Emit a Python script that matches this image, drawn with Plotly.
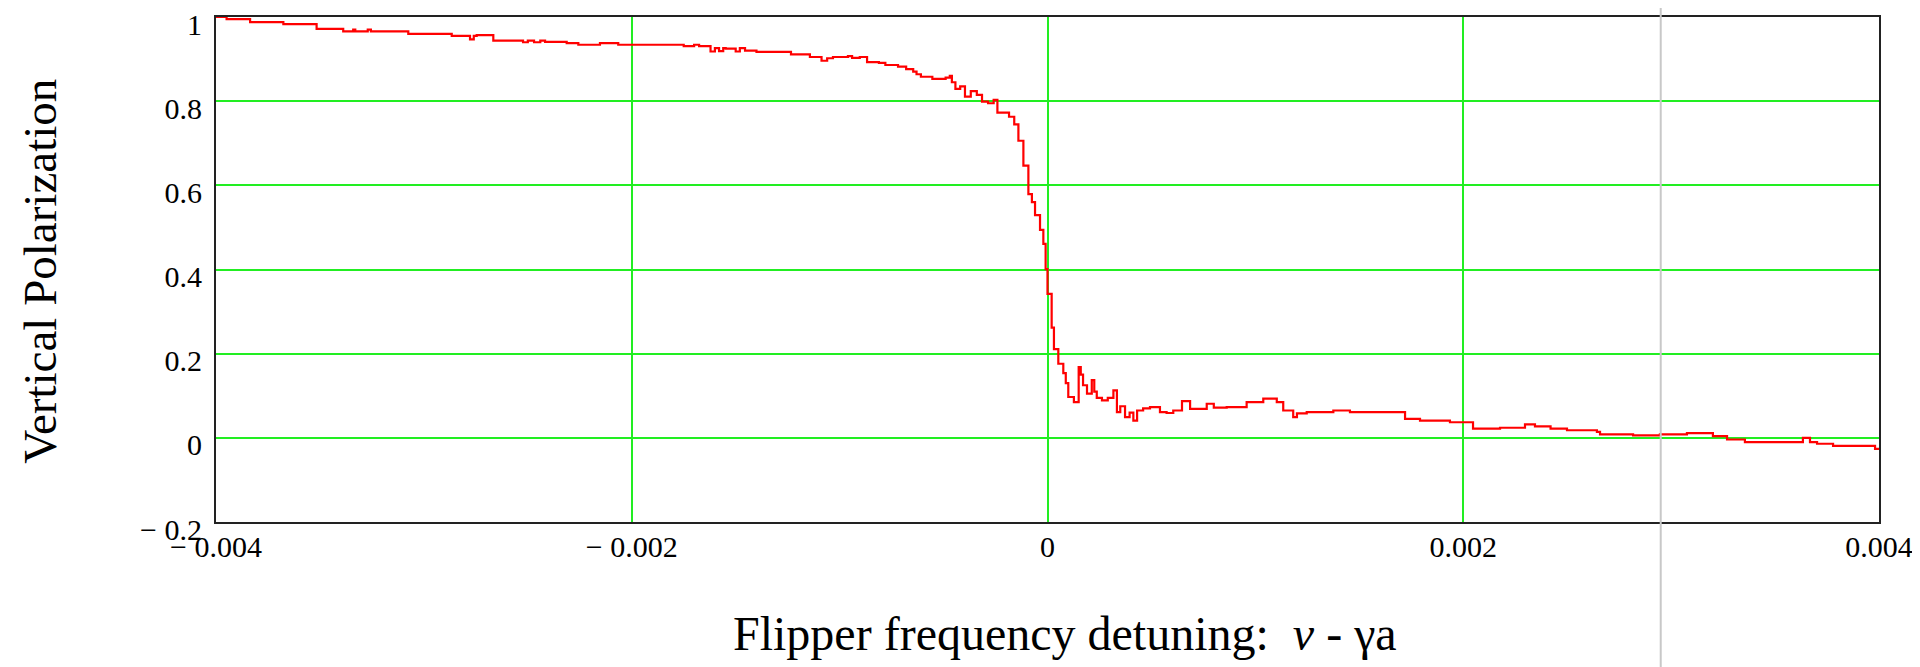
import plotly.graph_objects as go

# Red curve (vertical polarization vs detuning)
detuning = [
    -0.004000, -0.003949, -0.003836, -0.003676, -0.003516, -0.003388, -0.003340, -0.003330,
    -0.003270, -0.003255, -0.003075, -0.002866, -0.002778, -0.002760, -0.002746, -0.002666,
    -0.002523, -0.002500, -0.002470, -0.002440, -0.002417, -0.002313, -0.002257, -0.002153,
    -0.002065, -0.001750, -0.001700, -0.001676, -0.001621, -0.001600, -0.001580, -0.001560,
    -0.001548, -0.001500, -0.001480, -0.001455, -0.001400, -0.001327, -0.001234, -0.001143,
    -0.001087, -0.001060, -0.001032, -0.000960, -0.000940, -0.000903, -0.000868, -0.000811,
    -0.000780, -0.000719, -0.000680, -0.000646, -0.000630, -0.000609, -0.000554, -0.000490,
    -0.000470, -0.000460, -0.000443, -0.000420, -0.000397, -0.000369, -0.000340, -0.000315,
    -0.000286, -0.000259, -0.000241, -0.000185, -0.000160, -0.000140, -0.000116, -0.000092,
    -0.000075, -0.000060, -0.000036, -0.000020, -0.000009, 0.000000, 0.000020, 0.000031,
    0.000052, 0.000076, 0.000088, 0.000100, 0.000127, 0.000150, 0.000160, 0.000171,
    0.000190, 0.000213, 0.000225, 0.000237, 0.000262, 0.000290, 0.000317, 0.000334,
    0.000350, 0.000373, 0.000395, 0.000413, 0.000431, 0.000460, 0.000493, 0.000541,
    0.000573, 0.000605, 0.000647, 0.000686, 0.000766, 0.000800, 0.000862, 0.000958,
    0.001038, 0.001103, 0.001134, 0.001182, 0.001200, 0.001247, 0.001375, 0.001455,
    0.001614, 0.001696, 0.001720, 0.001792, 0.001903, 0.001936, 0.002018, 0.002047,
    0.002177, 0.002297, 0.002345, 0.002420, 0.002499, 0.002643, 0.002658, 0.002817,
    0.002946, 0.003076, 0.003201, 0.003269, 0.003355, 0.003620, 0.003634, 0.003668,
    0.003702, 0.003779, 0.003894, 0.003981, 0.004000,
]
polarization = [
    1.000, 0.995, 0.988, 0.983, 0.972, 0.966, 0.970, 0.966,
    0.970, 0.966, 0.960, 0.955, 0.947, 0.955, 0.957, 0.944,
    0.940, 0.944, 0.940, 0.944, 0.941, 0.938, 0.934, 0.938,
    0.934, 0.931, 0.934, 0.931, 0.918, 0.926, 0.919, 0.926,
    0.925, 0.918, 0.926, 0.920, 0.917, 0.917, 0.911, 0.905,
    0.896, 0.902, 0.905, 0.907, 0.903, 0.905, 0.893, 0.891,
    0.886, 0.882, 0.876, 0.870, 0.864, 0.858, 0.853, 0.856,
    0.860, 0.845, 0.829, 0.835, 0.811, 0.824, 0.815, 0.799,
    0.795, 0.803, 0.773, 0.763, 0.745, 0.706, 0.647, 0.579,
    0.560, 0.529, 0.494, 0.461, 0.401, 0.342, 0.262, 0.211,
    0.176, 0.154, 0.130, 0.097, 0.085, 0.168, 0.150, 0.125,
    0.105, 0.137, 0.110, 0.095, 0.089, 0.095, 0.113, 0.061,
    0.075, 0.049, 0.060, 0.041, 0.065, 0.070, 0.073, 0.061,
    0.059, 0.065, 0.087, 0.069, 0.081, 0.072, 0.073, 0.085,
    0.093, 0.085, 0.065, 0.049, 0.058, 0.061, 0.065, 0.061,
    0.061, 0.061, 0.045, 0.041, 0.041, 0.037, 0.037, 0.022,
    0.024, 0.032, 0.027, 0.022, 0.018, 0.014, 0.008, 0.006,
    0.008, 0.011, 0.004, -0.004, -0.010, -0.010, 0.000, -0.010,
    -0.014, -0.019, -0.019, -0.026, -0.028,
]

x_tickvals = [-0.004, -0.002, 0, 0.002, 0.004]
x_ticktext = ["\u2212 0.004", "\u2212 0.002", "0", "0.002", "0.004"]
y_tickvals = [-0.2, 0, 0.2, 0.4, 0.6, 0.8, 1]
y_ticktext = ["\u2212 0.2", "0", "0.2", "0.4", "0.6", "0.8", "1"]
marker_x = 0.00295

FONT = "Liberation Serif, Times New Roman, serif"

fig = go.Figure()
fig.add_trace(go.Scatter(
    x=detuning, y=polarization, mode="lines", line_shape="hv",
    line=dict(color="#ff0000", width=2.2), showlegend=False, hoverinfo="skip",
))

fig.update_layout(
    width=1920, height=667,
    margin=dict(l=208, r=49, t=9, b=153, autoexpand=False),
    paper_bgcolor="white", plot_bgcolor="white",
    font=dict(family=FONT, color="black"),
    xaxis=dict(
        range=[-0.004, 0.004], tickvals=x_tickvals, ticktext=x_ticktext,
        showgrid=True, gridcolor="#22ee22", gridwidth=2, zeroline=False,
        showline=True, linecolor="#222222", linewidth=2, mirror=True,
        ticks="", tickfont=dict(size=30, family=FONT, color="black"),
        ticklabelstandoff=-3, automargin=False, ticklabeloverflow="allow",
    ),
    yaxis=dict(
        range=[-0.2, 1], tickvals=y_tickvals, ticktext=y_ticktext,
        showgrid=True, gridcolor="#22ee22", gridwidth=2, zeroline=False,
        showline=True, linecolor="#222222", linewidth=2, mirror=True,
        ticks="", tickfont=dict(size=30, family=FONT, color="black"),
        ticklabelstandoff=6, ticklabelshift=7, automargin=False,
        ticklabeloverflow="allow",
    ),
    shapes=[dict(
        type="line", xref="x", yref="paper", x0=marker_x, x1=marker_x,
        y0=-0.31, y1=1.03, line=dict(color="#c8c8c8", width=2), layer="above",
    )],
    annotations=[
        dict(text="Vertical Polarization", xref="paper", yref="paper",
             x=-0.106, y=0.497, xanchor="center", yanchor="middle", textangle=-90,
             showarrow=False, font=dict(size=47, family=FONT, color="black")),
        dict(text="Flipper frequency detuning:\u00a0\u00a0<i>\u03bd</i> - \u03b3a",
             xref="paper", yref="paper", x=0.5105, y=-0.22,
             xanchor="center", yanchor="middle", showarrow=False,
             font=dict(size=48, family=FONT, color="black")),
    ],
)

fig.write_html("out.html")
